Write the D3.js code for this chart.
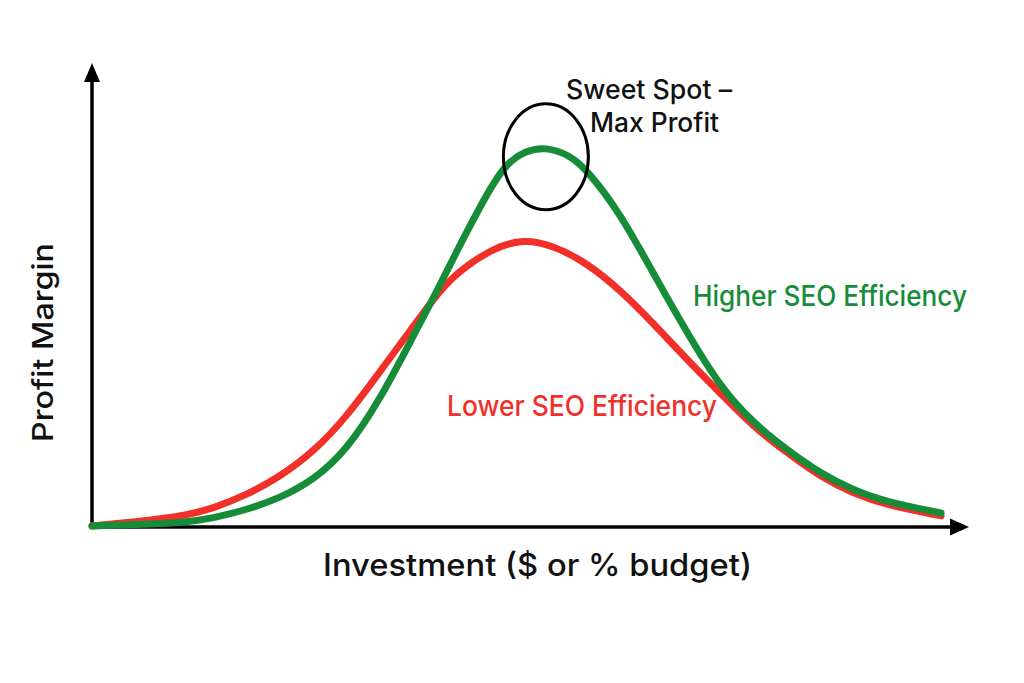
<!DOCTYPE html>
<html><head><meta charset="utf-8">
<script src="https://cdn.jsdelivr.net/npm/d3@7"></script>
<style>body{margin:0;background:#fff}svg{display:block}</style>
</head><body>
<svg id="c" width="1024" height="683"></svg>
<script>
// ---- data ----
const lowInvestment  = [0,5,10.4,14.3,18.2,22.1,26.1,30,33.9,37.8,41,43.4,46.9,50.4,54.3,58.3,62.2,66.1,70.1,74,77.9,81.9,85.8,89.6,93.6,100];
const lowProfit      = [0,0.9,2.0,3.8,6.7,10.6,16.0,23.6,33.3,43.0,51.0,55.3,59.6,62.0,60.7,56.8,51.0,43.8,35.9,28.7,21.4,15.8,10.6,7.1,4.5,2.2];
const highInvestment = [0,5,10.4,14.3,18.2,22.1,26.1,30,33.9,37.8,40.8,42.3,46.9,48.9,51,53.4,56.3,58.3,62.2,66.1,70.1,74,77.9,81.9,85.8,89.6,93.6,100];
const highProfit     = [0,0.3,0.6,1.7,3.5,6.0,9.9,16.4,27.2,40.9,51.3,57.0,73.2,78.4,81.0,81.9,80.1,76.9,67.6,54.6,41.7,30.0,22.2,16.4,11.4,7.8,5.2,2.8];
const seriesNames = ["Lower SEO Efficiency","Higher SEO Efficiency"];
const xTitle = "Investment ($ or % budget)";
const yTitle = "Profit Margin";
const noteLines = ["Sweet Spot –","Max Profit"];

// ---- chart ----
const svg = d3.select("#c");
const x = d3.scaleLinear().domain([0,100]).range([92,941]);
const y = d3.scaleLinear().domain([0,100]).range([526,63]);
const FONT = "Inter, 'Liberation Sans', Arial, sans-serif";

// axes
const x0 = x(0), y0 = y(0);
const axisG = svg.append("g");
axisG.append("line").attr("x1",x0).attr("y1",y0+2).attr("x2",x0).attr("y2",y.range()[1]+18)
  .attr("stroke","#000").attr("stroke-width",3.5);
axisG.append("path").attr("d",`M${x0},${y.range()[1]}L${x0-8},${y.range()[1]+19}L${x0+8},${y.range()[1]+19}Z`).attr("fill","#000");
const xEnd = x.range()[1]+28;
axisG.append("line").attr("x1",x0-1.75).attr("y1",y0+1).attr("x2",xEnd-18).attr("y2",y0+1)
  .attr("stroke","#000").attr("stroke-width",3.5);
axisG.append("path").attr("d",`M${xEnd},${y0+1}L${xEnd-19},${y0-7.5}L${xEnd-19},${y0+9.5}Z`).attr("fill","#000");

// curves
const line = d3.line().x(d=>x(d[0])).y(d=>y(d[1])).curve(d3.curveBasis);
const lowData = lowInvestment.map((v,i)=>[v,lowProfit[i]]);
const highData = highInvestment.map((v,i)=>[v,highProfit[i]]);
svg.append("path").datum(lowData).attr("d",line).attr("fill","none")
  .attr("stroke","#f2302a").attr("stroke-width",7).attr("stroke-linecap","round");
svg.append("path").datum(highData).attr("d",line).attr("fill","none")
  .attr("stroke","#168c38").attr("stroke-width",7).attr("stroke-linecap","round");

// sweet spot ellipse around the green peak
const peak = highData.reduce((a,b)=>b[1]>a[1]?b:a);
svg.append("ellipse").attr("cx",x(peak[0])+0.5).attr("cy",y(peak[1])+10)
  .attr("rx",42.5).attr("ry",53).attr("fill","none").attr("stroke","#000").attr("stroke-width",3);

function txt(str, xx, yy, size, fill, len){
  const t = svg.append("text").attr("x",xx).attr("y",yy).text(str)
    .attr("font-family",FONT).attr("font-size",size).attr("font-weight",500).attr("fill",fill);
  if(len){ t.attr("textLength",len).attr("lengthAdjust","spacingAndGlyphs"); }
  return t;
}
txt(noteLines[0], 566, 99, 26.5, "#111", 166);
txt(noteLines[1], 590, 132, 26.5, "#111", 129);
txt(seriesNames[1], 693, 306, 28, "#168c38", 274);
txt(seriesNames[0], 447, 416, 28, "#f2302a", 270);
txt(xTitle, 323, 576, 31, "#111", 429);
svg.append("text").attr("transform","translate(53,442) rotate(-90)").text(yTitle)
  .attr("font-family",FONT).attr("font-size",28.5).attr("font-weight",500).attr("fill","#111")
  .attr("textLength",199).attr("lengthAdjust","spacingAndGlyphs");
</script>
</body></html>
